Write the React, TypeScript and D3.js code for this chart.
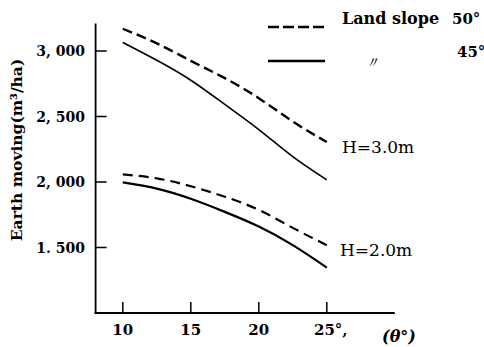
import { line, curveNatural, scaleLinear } from "d3";

const thetas = [10, 12.5, 15, 17.5, 20, 22.5, 25];
const h3Slope50 = [3170, 3058, 2925, 2793, 2640, 2462, 2305];
const h3Slope45 = [3065, 2929, 2777, 2592, 2400, 2193, 2016];
const h2Slope50 = [2058, 2028, 1968, 1888, 1787, 1650, 1518];
const h2Slope45 = [1997, 1950, 1872, 1772, 1660, 1518, 1347];

const yTicks = [1500, 2000, 2500, 3000];
const yTickLabels = ["1. 500", "2, 000", "2, 500", "3, 000"];
const xTicks = [10, 15, 20, 25];
const xTickLabels = ["10", "15", "20", "25°,"];

const WIDTH = 484;
const HEIGHT = 347;
const FONT = "'DejaVu Serif', serif";

const xScale = scaleLinear().domain([8, 30]).range([95.6, 394.8]);
const yScale = scaleLinear().domain([1000, 3210]).range([313, 23.5]);

type Pt = { t: number; v: number };

const toPoints = (values: number[]): Pt[] => values.map((v, i) => ({ t: thetas[i], v }));

const curve = line<Pt>()
  .x((d) => xScale(d.t))
  .y((d) => yScale(d.v))
  .curve(curveNatural);

const series = [
  { values: h3Slope50, dash: "10,5", width: 2.4 },
  { values: h3Slope45, dash: undefined, width: 1.6 },
  { values: h2Slope50, dash: "10,6", width: 2.2 },
  { values: h2Slope45, dash: undefined, width: 2.2 }
];

export default function App() {
  const x0 = xScale.range()[0];
  const x1 = xScale.range()[1];
  const yBottom = yScale.range()[0];
  const yTop = yScale.range()[1];

  return (
    <>
      <style>{"body{margin:0;background:#fff}"}</style>
      <svg width={WIDTH} height={HEIGHT} viewBox={`0 0 ${WIDTH} ${HEIGHT}`} style={{ display: "block" }}>
        <rect width={WIDTH} height={HEIGHT} fill="#fff" />

        {/* axes */}
        <line x1={x0} y1={yTop} x2={x0} y2={yBottom + 1} stroke="#000" strokeWidth={1.8} />
        <line x1={x0 - 1} y1={yBottom} x2={x1} y2={yBottom} stroke="#000" strokeWidth={2} />

        {yTicks.map((tick, i) => (
          <g key={tick}>
            <line x1={x0} y1={yScale(tick)} x2={x0 + 11} y2={yScale(tick)} stroke="#000" strokeWidth={1.5} />
            <text
              x={85}
              y={yScale(tick) + 5}
              textAnchor="end"
              fontFamily={FONT}
              fontWeight="bold"
              fontSize={14}
            >
              {yTickLabels[i]}
            </text>
          </g>
        ))}

        {xTicks.map((tick, i) => (
          <g key={tick}>
            <line x1={xScale(tick)} y1={yBottom} x2={xScale(tick)} y2={yBottom - 11} stroke="#000" strokeWidth={1.5} />
            <text
              x={xScale(tick) + (i === 3 ? 4 : 0)}
              y={335}
              textAnchor="middle"
              fontFamily={FONT}
              fontWeight="bold"
              fontSize={15}
            >
              {xTickLabels[i]}
            </text>
          </g>
        ))}

        <text x={399} y={342} textAnchor="middle" fontFamily={FONT} fontWeight="bold" fontStyle="italic" fontSize={16}>
          (θ°)
        </text>

        <text
          transform={`translate(22, 150) rotate(-90)`}
          textAnchor="middle"
          fontFamily={FONT}
          fontWeight="bold"
          fontSize={15.5}
        >
          Earth moving(m³/ha)
        </text>

        {/* curves */}
        {series.map((s, i) => (
          <path
            key={i}
            d={curve(toPoints(s.values)) ?? ""}
            fill="none"
            stroke="#000"
            strokeWidth={s.width}
            strokeDasharray={s.dash}
          />
        ))}

        <text x={342} y={153} fontFamily={FONT} fontSize={17}>
          H=3.0m
        </text>
        <text x={340} y={256} fontFamily={FONT} fontSize={17}>
          H=2.0m
        </text>

        {/* legend */}
        <line x1={268} y1={27} x2={324} y2={27} stroke="#000" strokeWidth={2.4} strokeDasharray="11,4" />
        <line x1={268} y1={61} x2={325} y2={61} stroke="#000" strokeWidth={2.4} />
        <text x={342} y={24} fontFamily={FONT} fontWeight="bold" fontSize={16}>
          Land slope
        </text>
        <text x={452} y={24} fontFamily={FONT} fontWeight="bold" fontSize={15}>
          50°
        </text>
        <text x={364} y={68} fontFamily={FONT} fontStyle="italic" fontSize={16}>
          〃
        </text>
        <text x={457} y={57} fontFamily={FONT} fontWeight="bold" fontSize={15}>
          45°
        </text>
      </svg>
    </>
  );
}
